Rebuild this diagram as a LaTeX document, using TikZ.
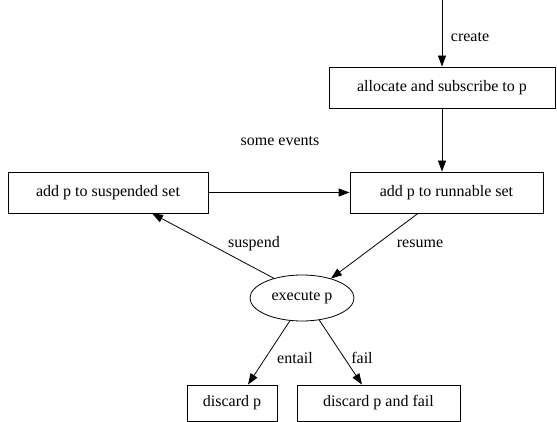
\documentclass[tikz,border=0pt]{standalone}
\usepackage{fontspec}
\setmainfont{Liberation Serif}
\usetikzlibrary{arrows.meta, shapes.geometric, calc}

\begin{document}
\begin{tikzpicture}[x=1pt, y=-1pt, >={Triangle[length=11pt, width=8pt]},
    font=\fontsize{16}{18}\selectfont, line width=0.8pt,
    box/.style={draw, rectangle, inner sep=0pt, minimum height=41pt},
    lbl/.style={inner sep=0pt}]
    \useasboundingbox (0,0) rectangle (557,422);

    % Draw the states
    \coordinate (start) at (442,0);
    \node[box, minimum width=226pt] (alloc) at (442,87.5) {allocate and subscribe to p};
    \node[box, minimum width=200pt] (susp) at (108,192.5) {add p to suspended set};
    \node[box, minimum width=193pt] (run) at (446.5,192.5) {add p to runnable set};
    \node[draw, ellipse, inner sep=0pt, minimum width=104pt, minimum height=46pt] (exec) at (302,298) {execute p};
    \node[box, minimum width=90pt, minimum height=36pt] (disc) at (232,403) {discard p};
    \node[box, minimum width=163pt, minimum height=36pt] (discfail) at (378.5,403) {discard p and fail};

    % Draw the transitions
    \draw[->] (start) -- (alloc.north);
    \draw[->] (alloc.south) -- (alloc.south |- run.north);
    \draw[->] (susp.east) -- (run.west);
    \draw[->] (exec.145) -- ($(susp.south)+(44,0)$);
    \draw[->] ($(run.south)+(-28.5,0)$) -- (exec.34);
    \draw[->] (exec.242) -- ($(disc.north)+(16,0)$);
    \draw[->] (exec.308) -- ($(discfail.north)+(-16.5,0)$);

    % Draw the labels
    \node[lbl] (lcreate) at (470,37) {create};
    \node[lbl] (levents) at (280,141) {some events};
    \node[lbl] (lsuspend) at (254,244) {suspend};
    \node[lbl] (lresume) at (420,244) {resume};
    \node[lbl] (lentail) at (295,358) {entail};
    \node[lbl] (lfail) at (362,358) {fail};

\end{tikzpicture}
\end{document}
